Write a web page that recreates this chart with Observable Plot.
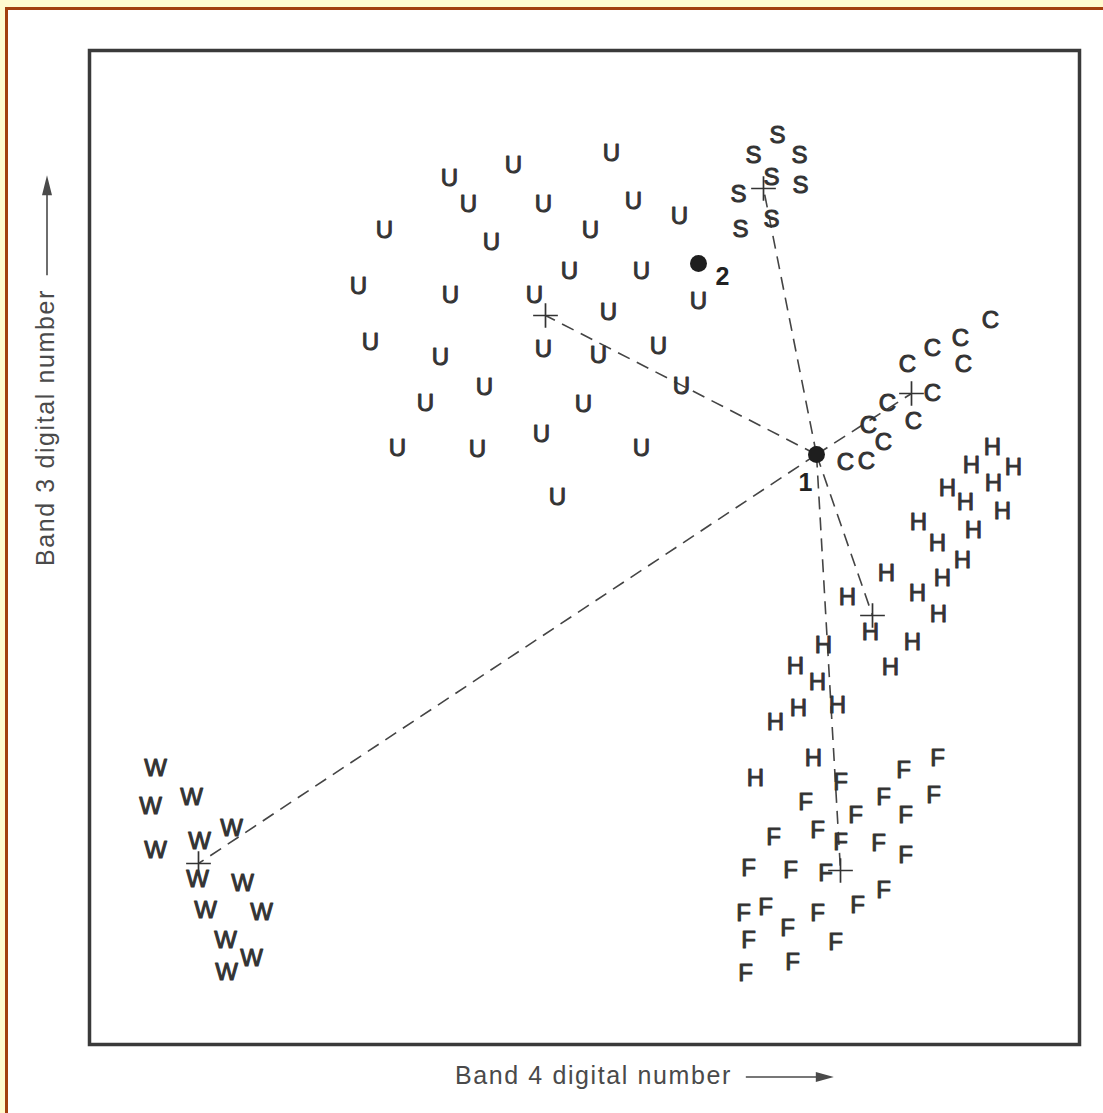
<!DOCTYPE html>
<html>
<head>
<meta charset="utf-8">
<script src="https://cdn.jsdelivr.net/npm/d3@7"></script>
<script src="https://cdn.jsdelivr.net/npm/@observablehq/plot@0.6"></script>
<style>
  html, body { margin: 0; padding: 0; background: #fff; }
  #page { position: relative; width: 1103px; height: 1113px; background: #fff; overflow: hidden; }
  .band { position: absolute; }
  #chart { position: absolute; left: 0; top: 0; }
</style>
</head>
<body>
<div id="page">
  <div class="band" style="left:0;top:0;width:1103px;height:7px;background:#fffbcf"></div>
  <div class="band" style="left:0;top:0;width:5px;height:1113px;background:#fffbcf"></div>
  <div class="band" style="left:5px;top:7px;width:1098px;height:3px;background:#a3400e"></div>
  <div class="band" style="left:5px;top:7px;width:3px;height:1106px;background:#a3400e"></div>
  <div id="chart"></div>
</div>
<script>
// ---- Data (Band 4 DN on x, Band 3 DN on y; arbitrary units) ----
const xLabel = "Band 4 digital number";
const yLabel = "Band 3 digital number";

const urbanU = [[522,891],[424,879],[360,866],[379,840],[454,840],[544,843],[590,828],[295,814],
  [402,802],[501,814],[480,773],[552,773],[269,758],[361,749],[445,749],[609,743],[519,732],
  [281,702],[351,687],[454,695],[509,689],[569,698],[395,657],[592,658],[336,641],[494,640],
  [452,610],[308,596],[388,595],[552,596],[468,547]];
const sandS = [[688,909],[664,889],[710,889],[682,867],[711,859],[649,850],[682,825],[651,815]];
const cornC = [[901,724],[843,696],[871,706],[874,680],[818,680],[843,651],[798,641],[779,619],
  [824,623],[794,602],[756,582],[777,583]];
const hayH = [[903,597],[882,579],[924,577],[904,561],[858,556],[876,542],[913,533],[829,522],
  [884,514],[848,501],[873,484],[797,471],[853,466],[758,447],[828,451],[849,430],[781,412],
  [823,402],[801,377],[734,399],[706,378],[728,362],[709,336],[748,339],[686,322],[724,286],[666,266]];
const forestF = [[848,286],[814,274],[751,262],[794,247],[844,249],[716,242],[766,229],[816,229],
  [684,207],[728,214],[751,202],[789,201],[816,189],[659,176],[701,174],[736,171],[794,154],
  [768,139],[654,131],[676,137],[728,131],[698,116],[659,104],[746,102],[703,82],[656,71]];
const waterW = [[66,276],[61,238],[102,247],[110,203],[142,216],[66,194],[108,165],[153,161],
  [116,134],[172,132],[136,104],[162,86],[137,72]];

const classLetters = ["U", "S", "C", "H", "F", "W"];
const classMeans = [[456,729],[674,856],[822,651],[783,429],[751,174],[109,181]];

const unknownPixels = [[727,590],[609,781]];
const unknownLabels = ["1", "2"];

// ---- Build tables ----
const classPoints = [urbanU, sandS, cornC, hayH, forestF, waterW];
const letters = classPoints.flatMap((pts, i) => pts.map(([x, y]) => ({x, y, letter: classLetters[i]})));
const means = classMeans.map(([x, y], i) => ({x, y, letter: classLetters[i]}));
const pixel1 = unknownPixels[0];
const pixels = unknownPixels.map(([x, y], i) => ({x, y, label: unknownLabels[i]}));

const ink = "#333333";
const fontFamily = "'Liberation Sans', Arial, Helvetica, sans-serif";

const plot = Plot.plot({
  width: 1103,
  height: 1113,
  marginLeft: 89,
  marginRight: 24,
  marginTop: 50,
  marginBottom: 69,
  x: {domain: [0, 990], axis: null},
  y: {domain: [0, 994], axis: null},
  style: {background: "transparent", fontFamily},
  marks: [
    Plot.frame({stroke: "#3a3a3a", strokeWidth: 3.5}),
    Plot.link(means, {
      x1: () => pixel1[0], y1: () => pixel1[1], x2: "x", y2: "y",
      stroke: "#444", strokeWidth: 1.6, strokeDasharray: "13,8"
    }),
    Plot.dot(means, {x: "x", y: "y", symbol: "plus", r: 8, stroke: ink, strokeWidth: 1.7}),
    Plot.text(letters, {
      x: "x", y: "y", text: "letter", fontSize: 24, fill: ink,
      stroke: ink, strokeWidth: 1.0
    }),
    Plot.dot(pixels, {x: "x", y: "y", r: 8.5, fill: "#1e1e1e"}),
    Plot.text(pixels.filter(d => d.label === "1"), {
      x: "x", y: "y", text: "label", dx: -11, dy: 28, fontSize: 25, fontWeight: "bold", fill: "#222"
    }),
    Plot.text(pixels.filter(d => d.label === "2"), {
      x: "x", y: "y", text: "label", dx: 24, dy: 13, fontSize: 25, fontWeight: "bold", fill: "#222"
    })
  ]
});

document.getElementById("chart").appendChild(plot);

// ---- Axis labels with arrows ----
const svg = d3.select(plot);
const labelColor = "#4a4a4a";
const frameB = 1044;

const xl = svg.append("text")
  .attr("x", 455).attr("y", frameB + 33)
  .attr("text-anchor", "start")
  .attr("dominant-baseline", "middle")
  .attr("font-family", fontFamily).attr("font-size", 25)
  .attr("letter-spacing", "1.6px")
  .attr("fill", labelColor)
  .text(xLabel);
const xb = xl.node().getBBox();
const ax0 = xb.x + xb.width + 14, ay = frameB + 33;
svg.append("line").attr("x1", ax0).attr("x2", ax0 + 72).attr("y1", ay).attr("y2", ay)
  .attr("stroke", labelColor).attr("stroke-width", 1.6);
svg.append("path")
  .attr("d", `M${ax0 + 88},${ay} L${ax0 + 70},${ay - 5} L${ax0 + 70},${ay + 5} Z`)
  .attr("fill", labelColor);

const yl = svg.append("text")
  .attr("transform", `translate(47,566) rotate(-90)`)
  .attr("text-anchor", "start")
  .attr("dominant-baseline", "middle")
  .attr("font-family", fontFamily).attr("font-size", 25)
  .attr("letter-spacing", "1.6px")
  .attr("fill", labelColor)
  .text(yLabel);
const yLen = yl.node().getComputedTextLength();
const by0 = 566 - yLen - 14;
svg.append("line").attr("x1", 47).attr("x2", 47).attr("y1", by0).attr("y2", by0 - 82)
  .attr("stroke", labelColor).attr("stroke-width", 1.6);
svg.append("path")
  .attr("d", `M47,${by0 - 100} L42,${by0 - 80} L52,${by0 - 80} Z`)
  .attr("fill", labelColor);
</script>
</body>
</html>
